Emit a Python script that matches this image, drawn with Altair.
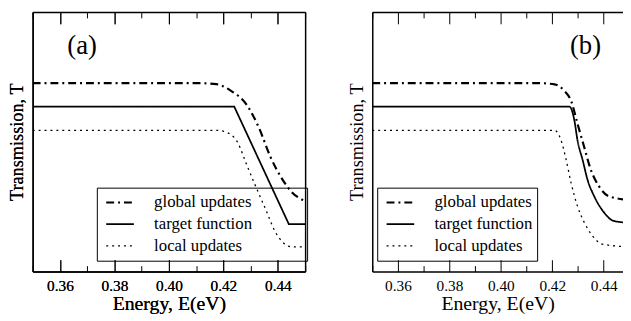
import altair as alt
import pandas as pd

SERIF = "Liberation Serif, Times New Roman, Times, serif"
series_names = ["global updates", "target function", "local updates"]
dash_styles = [[8, 4, 2, 4], [1, 0], [2, 4]]
line_widths = [2.2, 1.3, 1.8]

major_ticks = [0.36, 0.38, 0.40, 0.42, 0.44]
minor_ticks = [0.35, 0.37, 0.39, 0.41, 0.43, 0.45]

# panel (a)
a_global_x = [0.350, 0.410, 0.4174, 0.4228, 0.4283, 0.4330, 0.4373, 0.4417, 0.4453, 0.450]
a_global_y = [0.726, 0.726, 0.722, 0.696, 0.646, 0.555, 0.441, 0.354, 0.304, 0.272]
a_target_x = [0.350, 0.424, 0.444, 0.450]
a_target_y = [0.635, 0.635, 0.183, 0.183]
a_local_x = [0.350, 0.4174, 0.4221, 0.4254, 0.4283, 0.4319, 0.4355, 0.4391, 0.4417, 0.4453, 0.450]
a_local_y = [0.544, 0.544, 0.532, 0.494, 0.418, 0.327, 0.240, 0.152, 0.114, 0.095, 0.095]

# panel (b)
b_global_x = [0.350, 0.4145, 0.4209, 0.4247, 0.4273, 0.4298, 0.4324, 0.4350, 0.4382, 0.4420, 0.450]
b_global_y = [0.726, 0.726, 0.721, 0.696, 0.658, 0.570, 0.480, 0.392, 0.328, 0.290, 0.276]
b_target_x = [0.350, 0.4267, 0.4286, 0.4298, 0.4318, 0.4337, 0.4363, 0.4401, 0.4439, 0.450]
b_target_y = [0.635, 0.635, 0.582, 0.506, 0.430, 0.354, 0.290, 0.228, 0.195, 0.188]
b_local_x = [0.350, 0.4209, 0.4234, 0.4254, 0.4273, 0.4298, 0.4324, 0.4356, 0.4394, 0.450]
b_local_y = [0.544, 0.544, 0.506, 0.430, 0.342, 0.252, 0.190, 0.138, 0.106, 0.095]

PANEL_H = 263


def frame_df(parts):
    rows = []
    for name, xs, ys in parts:
        for x, y in zip(xs, ys):
            rows.append({"series": name, "E": x, "T": y})
    return pd.DataFrame(rows)


def make_panel(parts, label, width, xmax, legend_x, nbsp, linear_target, right_axis, label_x):
    df = frame_df(parts)
    xscale = alt.Scale(domain=[0.35, xmax], nice=False, zero=False)
    yscale = alt.Scale(domain=[0, 1], nice=False, zero=False)
    x_bottom = alt.X(
        "E:Q", scale=xscale,
        axis=alt.Axis(orient="bottom", values=major_ticks, format=".2f", ticks=False,
                      grid=True, gridColor="black", gridOpacity=1, gridWidth=1,
                      gridDash=[12, PANEL_H - 24, 12, 800],
                      domain=True, domainColor="black", domainWidth=1.5,
                      labelFont=SERIF, labelFontSize=15.5, labelPadding=7, labelColor="black",
                      title="Energy, E(eV)", titleFont=SERIF, titleFontSize=20,
                      titleFontWeight="normal", titleColor="black", titlePadding=0),
    )
    y_left = alt.Y(
        "T:Q", scale=yscale,
        axis=alt.Axis(orient="left", labels=False, ticks=False, grid=False,
                      domain=True, domainColor="black", domainWidth=1.5,
                      title="Transmission, T", titleFont=SERIF, titleFontSize=18.5,
                      titleFontWeight="normal", titleColor="black", titlePadding=6),
    )
    pad = ("\u00a0" * nbsp + "\u200b") if nbsp else ""
    leg = alt.Legend(orient="none", legendX=legend_x, legendY=178, title=None,
                     labelFont=SERIF, labelFontSize=17, labelColor="black",
                     labelExpr="datum.label + '" + pad + "'")
    dash = alt.StrokeDash("series:N", scale=alt.Scale(domain=series_names, range=dash_styles),
                          sort=series_names, legend=leg)
    widthenc = alt.StrokeWidth("series:N", scale=alt.Scale(domain=series_names, range=line_widths),
                               sort=series_names, legend=leg)
    base = alt.Chart(df)
    layers = []
    if linear_target:
        smooth = base.transform_filter(alt.datum.series != "target function")
        lin = base.transform_filter(alt.datum.series == "target function")
        layers.append(smooth.mark_line(color="black", interpolate="monotone", clip=True)
                      .encode(x=x_bottom, y=y_left, strokeDash=dash, strokeWidth=widthenc,
                              detail="series:N"))
        layers.append(lin.mark_line(color="black", interpolate="linear", clip=True)
                      .encode(x=x_bottom, y=y_left, strokeDash=dash, strokeWidth=widthenc,
                              detail="series:N"))
    else:
        layers.append(base.mark_line(color="black", interpolate="monotone", clip=True)
                      .encode(x=x_bottom, y=y_left, strokeDash=dash, strokeWidth=widthenc,
                              detail="series:N"))
    top_vals = [v for v in minor_ticks if v <= xmax + 1e-9]
    x_top = alt.X(
        "E:Q", scale=xscale,
        axis=alt.Axis(orient="top", values=top_vals, labels=False, ticks=False,
                      grid=True, gridColor="black", gridOpacity=1, gridWidth=1,
                      gridDash=[6, PANEL_H - 12, 6, 800],
                      domain=True, domainColor="black", domainWidth=1.5, title=None),
    )
    if right_axis:
        y_right = alt.Y("T:Q", scale=yscale,
                        axis=alt.Axis(orient="right", labels=False, ticks=False, grid=False,
                                      domain=True, domainColor="black", domainWidth=1.5,
                                      title=None))
    else:
        y_right = alt.Y("T:Q", scale=yscale, axis=None)
    layers.append(base.mark_line(strokeOpacity=0, clip=True).encode(x=x_top, y=y_right, detail="series:N"))
    txt = alt.Chart(pd.DataFrame({"lab": [label]})).mark_text(
        font=SERIF, fontSize=27, align="center", baseline="middle", color="black"
    ).encode(text="lab:N", x=alt.value(label_x), y=alt.value(35))
    layers.append(txt)
    return alt.layer(*layers).resolve_axis(x="independent", y="independent").properties(
        width=width, height=PANEL_H)


panel_a = make_panel(
    [("global updates", a_global_x, a_global_y),
     ("target function", a_target_x, a_target_y),
     ("local updates", a_local_x, a_local_y)],
    "(a)", 276, 0.45, 65, 12, True, True, 50)

panel_b = make_panel(
    [("global updates", b_global_x, b_global_y),
     ("target function", b_target_x, b_target_y),
     ("local updates", b_local_x, b_local_y)],
    "(b)", 254, 0.4475, 5, 0, False, False, 216)

chart = alt.hconcat(panel_a, panel_b, spacing=40).resolve_scale(
    strokeDash="independent", strokeWidth="independent"
).resolve_legend(
    strokeDash="independent", strokeWidth="independent"
).properties(
    padding={"left": 0, "top": 2, "right": 0, "bottom": 0}
).configure_view(stroke=None).configure_axis(
    labelFont=SERIF, titleFont=SERIF, labelColor="black", titleColor="black",
    titleFontWeight="normal"
).configure_legend(
    strokeColor="black", padding=4, symbolType="stroke", symbolSize=784, clipHeight=22,
    rowPadding=0, labelFont=SERIF, labelFontSize=17, labelColor="black",
    symbolStrokeColor="black", symbolOffset=4, labelOffset=19
)

chart.save("out.html", embed_options={"renderer": "svg", "actions": False})
